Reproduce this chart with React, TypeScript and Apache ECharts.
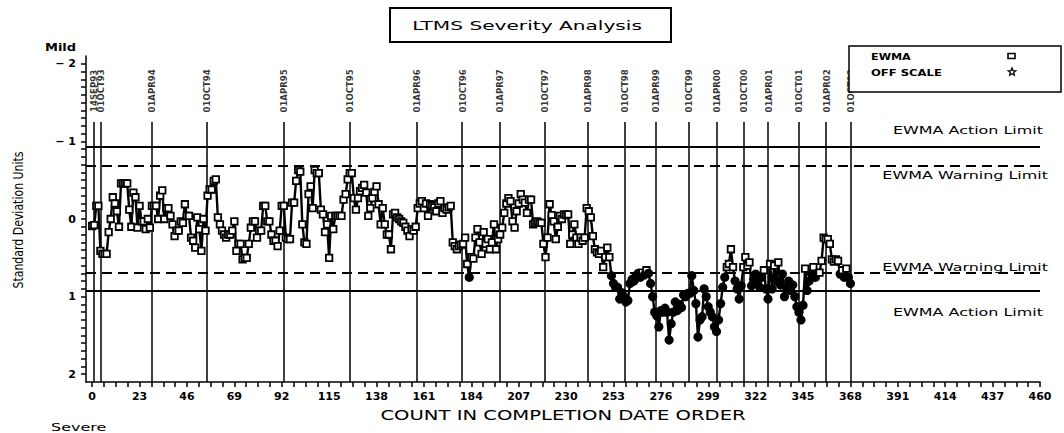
import React, { useEffect, useRef } from "react";
import * as echarts from "echarts";

// EWMA values, one per count (0..368), in standard deviation units (negative = mild)
const ewmaValues: number[] = [
  0.09, 0.08, -0.17, -0.17, 0.41, 0.45, 0.45, 0.45, 0.17, 0.0,
  -0.28, -0.2, -0.1, 0.1, -0.46, -0.46, -0.46, -0.46, -0.12, 0.1,
  -0.34, -0.28, 0.11, -0.17, 0.03, 0.03, 0.13, 0.0, 0.11, -0.17,
  -0.17, -0.17, 0.0, -0.3, -0.37, 0.0, -0.14, -0.14, -0.04, 0.07,
  0.22, 0.15, 0.15, 0.03, 0.05, -0.19, -0.04, -0.04, 0.24, 0.28,
  0.37, -0.02, 0.13, 0.41, 0.0, 0.15, -0.3, -0.38, -0.38, -0.49,
  -0.51, -0.02, 0.07, 0.15, 0.2, 0.24, 0.2, 0.2, 0.15, 0.03,
  0.41, 0.32, 0.32, 0.52, 0.5, 0.5, 0.32, 0.11, 0.03, 0.03,
  0.24, 0.15, 0.15, -0.17, -0.17, 0.03, 0.03, 0.2, 0.28, 0.28,
  0.35, 0.15, -0.17, -0.17, 0.24, 0.26, 0.26, -0.21, -0.21, -0.49,
  -0.63, -0.61, 0.07, 0.3, 0.32, -0.32, -0.42, -0.14, -0.63, -0.59,
  -0.59, -0.12, -0.06, 0.17, 0.07, 0.5, -0.04, 0.13, -0.04, -0.04,
  -0.04, -0.04, -0.25, -0.32, -0.51, -0.59, -0.59, -0.27, -0.12, -0.27,
  -0.36, -0.4, -0.44, -0.34, -0.04, -0.14, -0.27, -0.35, -0.42, -0.19,
  0.07, -0.14, 0.07, 0.2, 0.2, 0.39, -0.06, -0.08, -0.02, 0.0,
  0.03, 0.05, 0.1, 0.15, 0.22, 0.13, 0.15, 0.1, -0.14, -0.2,
  -0.23, -0.14, -0.2, -0.04, -0.19, -0.17, -0.15, -0.1, -0.2, -0.23,
  -0.08, -0.14, -0.12, -0.15, -0.17, 0.3, 0.35, 0.39, 0.35, 0.33,
  0.32, 0.24, 0.58, 0.75, 0.49, 0.51, 0.24, 0.13, 0.3, 0.45,
  0.17, 0.32, 0.26, 0.39, 0.3, 0.07, 0.39, 0.26, 0.2, 0.11,
  -0.08, -0.2, -0.27, -0.23, 0.03, 0.11, -0.1, -0.2, -0.32, -0.25,
  -0.21, -0.08, -0.25, -0.25, 0.07, 0.05, 0.03, 0.05, 0.05, 0.32,
  0.49, 0.24, -0.19, -0.05, 0.03, 0.26, 0.1, -0.04, 0.0, -0.06,
  -0.05, -0.06, 0.32, 0.2, 0.07, 0.24, 0.32, 0.24, 0.28, 0.24,
  -0.14, -0.1, -0.02, 0.22, 0.39, 0.43, 0.45, 0.41, 0.62, 0.49,
  0.37, 0.49, 0.73, 0.83, 0.88, 0.88, 1.03, 0.95, 1.0, 1.07,
  1.05, 0.83, 0.78, 0.8, 0.73, 0.7, 0.75, 0.69, 0.72, 0.66,
  0.7, 0.83, 1.0, 1.2, 1.25, 1.39, 1.18, 1.2, 1.15, 1.2,
  1.56, 1.35, 1.2, 1.07, 1.18, 1.1, 1.14, 0.98, 1.0, 0.96,
  0.96, 0.73, 0.92, 1.09, 1.52, 1.3, 1.26, 0.9, 1.0, 1.13,
  1.2, 1.26, 1.39, 1.45, 1.3, 1.09, 0.88, 0.75, 0.62, 0.58,
  0.39, 0.62, 0.8, 0.9, 1.03, 0.86, 0.62, 0.49, 0.6, 0.56,
  0.86, 0.78, 0.71, 0.8, 0.88, 0.75, 0.66, 0.9, 1.03, 0.58,
  0.9, 0.6, 0.8, 0.56, 0.85, 0.71, 1.0, 0.88, 0.8, 0.92,
  0.85, 1.0, 1.13, 1.2, 1.3, 1.11, 0.64, 0.92, 0.8, 0.7,
  0.62, 0.75, 0.7, 0.69, 0.54, 0.24, 0.26, 0.26, 0.32, 0.52,
  0.55, 0.52, 0.54, 0.71, 0.66, 0.75, 0.64, 0.75, 0.83,
];

const dateLabels: string[] = [
  "14SEP93", "01OCT93", "01APR94", "01OCT94", "01APR95", "01OCT95",
  "01APR96", "01OCT96", "01APR97", "01OCT97", "01APR98", "01OCT98",
  "01APR99", "01OCT99", "01APR00", "01OCT00", "01APR01", "01OCT01",
  "01APR02", "01OCT02",
];
const dateCounts: number[] = [
  0.6, 4.2, 28.7, 55.7, 92.8, 124.9,
  157.4, 179.6, 197.6, 219.5, 240.4, 258.4,
  273.6, 289.4, 303.2, 316, 328.1, 342.9,
  356.2, 368,
];

const actionLimit = 0.93;
const warningLimit = 0.69;

const xTickLabels: number[] = [
  0, 23, 46, 69, 92, 115, 138, 161, 184, 207, 230,
  253, 276, 299, 322, 345, 368, 391, 414, 437, 460,
];
const yTickLabels: number[] = [-2, -1, 0, 1, 2];

const FONT = "'DejaVu Sans', Verdana, sans-serif";
const NARROW = "'DejaVu Sans Condensed', 'DejaVu Sans', sans-serif";

export default function App() {
  const ref = useRef<HTMLDivElement>(null);

  useEffect(() => {
    if (!ref.current) return;
    const chart = echarts.init(ref.current, undefined, { renderer: "svg" });

    const xTicks: number[] = [];
    for (let i = 0; i < xTickLabels.length - 1; i++) {
      const a = xTickLabels[i];
      const b = xTickLabels[i + 1];
      for (let k = 0; k < 4; k++) xTicks.push(a + ((b - a) * k) / 4);
    }
    xTicks.push(xTickLabels[xTickLabels.length - 1]);
    const yTicks: number[] = [];
    for (let k = -20; k <= 20; k++) yTicks.push(k / 10);

    const points = ewmaValues.map((v, i) =>
      v > warningLimit
        ? {
            value: [i, v],
            symbol: "circle",
            symbolSize: 7.5,
            itemStyle: { color: "#000", borderColor: "#000" },
          }
        : { value: [i, v] }
    );

    const labelY = -1.65;
    const lineTop = -1.25;

    const axisCommon = {
      axisLine: { show: true, onZero: false, lineStyle: { color: "#000", width: 1.5 } },
      splitLine: { show: false },
    };

    const option: any = {
      animation: false,
      backgroundColor: "#fff",
      grid: { left: 86, right: 24, top: 56, bottom: 51 },
      xAxis: {
        type: "value",
        min: -3,
        max: 460,
        ...axisCommon,
        axisTick: {
          show: true,
          customValues: xTicks,
          length: 5,
          lineStyle: { color: "#000", width: 1.5 },
        },
        axisLabel: {
          customValues: xTickLabels,
          color: "#000",
          fontFamily: FONT,
          fontSize: 11,
          fontWeight: "bold",
          margin: 9,
        },
      },
      yAxis: {
        type: "value",
        min: -2.1,
        max: 2.1,
        inverse: true,
        ...axisCommon,
        axisTick: {
          show: true,
          customValues: yTicks,
          length: 5,
          lineStyle: { color: "#000", width: 1.5 },
        },
        axisLabel: {
          customValues: yTickLabels,
          color: "#000",
          fontFamily: FONT,
          fontSize: 11,
          fontWeight: "bold",
          margin: 10,
          formatter: (v: number) => (v < 0 ? "\u2212 " + Math.abs(v) : String(v)),
        },
      },
      series: [
        {
          type: "scatter",
          z: 1,
          silent: true,
          symbolSize: 0,
          itemStyle: { color: "transparent" },
          data: dateCounts.map((c, i) => ({ value: [c, labelY], name: dateLabels[i] })),
          label: {
            show: true,
            position: "inside",
            rotate: 90,
            formatter: "{b}",
            color: "#000",
            fontFamily: NARROW,
            fontSize: 9.5,
            fontWeight: "bold",
          },
          markLine: {
            silent: true,
            symbol: ["none", "none"],
            label: { show: false },
            emphasis: { disabled: true },
            data: [
              ...dateCounts.map((c) => [
                { coord: [c, lineTop], lineStyle: { color: "#000", width: 1.5, type: "solid" } },
                { coord: [c, 2.1] },
              ]),
              { yAxis: -actionLimit, lineStyle: { color: "#000", width: 2, type: "solid" } },
              { yAxis: actionLimit, lineStyle: { color: "#000", width: 2, type: "solid" } },
              { yAxis: -warningLimit, lineStyle: { color: "#000", width: 2.2, type: [10, 6] } },
              { yAxis: warningLimit, lineStyle: { color: "#000", width: 2.2, type: [10, 6] } },
            ],
          },
        },
        {
          type: "line",
          z: 5,
          silent: true,
          data: points,
          symbol: "rect",
          symbolSize: 6.5,
          showSymbol: true,
          showAllSymbol: true,
          itemStyle: { color: "#fff", borderColor: "#000", borderWidth: 1.8 },
          lineStyle: { color: "#000", width: 2.4 },
        },
      ],
    };
    chart.setOption(option);

    const px = (x: number, y: number) =>
      chart.convertToPixel({ xAxisIndex: 0, yAxisIndex: 0 }, [x, y]) as number[];

    const text = (
      x: number,
      y: number,
      s: string,
      font: string,
      align: string,
      scaleX = 1,
      rotation = 0
    ) => ({
      type: "text",
      x,
      y,
      scaleX,
      rotation,
      silent: true,
      z: 20,
      style: { text: s, font, fill: "#000", align, verticalAlign: "middle" },
    });

    // legend star glyph
    const starPts: number[][] = [];
    for (let k = 0; k < 10; k++) {
      const r = k % 2 === 0 ? 4 : 1.8;
      const a = -Math.PI / 2 + (k * Math.PI) / 5;
      starPts.push([1012 + r * Math.cos(a), 72 + r * Math.sin(a)]);
    }

    const upAct = px(460, -actionLimit);
    const upWarn = px(460, -warningLimit);
    const loWarn = px(460, warningLimit);
    const loAct = px(460, actionLimit);
    const limitFont = `11px ${FONT}`;

    chart.setOption({
      graphic: [
        // title box
        {
          type: "rect",
          shape: { x: 390, y: 8, width: 281, height: 34 },
          style: { fill: "#fff", stroke: "#000", lineWidth: 2 },
          z: 19,
        },
        text(527, 25, "LTMS Severity Analysis", `13px ${FONT}`, "center", 1.55),
        // legend box
        {
          type: "rect",
          shape: { x: 849, y: 46, width: 212, height: 46 },
          style: { fill: "#fff", stroke: "#000", lineWidth: 1.5 },
          z: 19,
        },
        text(871, 57, "EWMA", `bold 8px ${FONT}`, "left", 1.4),
        text(871, 73, "OFF SCALE", `bold 8px ${FONT}`, "left", 1.45),
        {
          type: "rect",
          shape: { x: 1008, y: 53.5, width: 7, height: 5 },
          style: { fill: "#fff", stroke: "#000", lineWidth: 1.6 },
          z: 20,
        },
        {
          type: "polygon",
          shape: { points: starPts },
          style: { fill: "#fff", stroke: "#000", lineWidth: 1.3 },
          z: 20,
        },
        // corner labels
        text(45, 48, "Mild", `bold 10px ${FONT}`, "left", 1.3),
        text(51, 428, "Severe", `10px ${FONT}`, "left", 1.6),
        // axis titles
        text(563, 415, "COUNT IN COMPLETION DATE ORDER", `14px ${FONT}`, "center", 1.4),
        text(18, 220, "Standard Deviation Units", `14px ${NARROW}`, "center", 0.87, Math.PI / 2),
        // limit labels
        text(upAct[0] + 3, upAct[1] - 17, "EWMA Action Limit", limitFont, "right", 1.45),
        text(upWarn[0] + 8, upWarn[1] + 10, "EWMA Warning Limit", limitFont, "right", 1.45),
        text(loWarn[0] + 8, loWarn[1] - 6, "EWMA Warning Limit", limitFont, "right", 1.45),
        text(loAct[0] + 3, loAct[1] + 21, "EWMA Action Limit", limitFont, "right", 1.45),
      ],
    });

    return () => chart.dispose();
  }, []);

  return (
    <div
      ref={ref}
      style={{ position: "fixed", left: 0, top: 0, width: 1064, height: 433, background: "#fff" }}
    />
  );
}
